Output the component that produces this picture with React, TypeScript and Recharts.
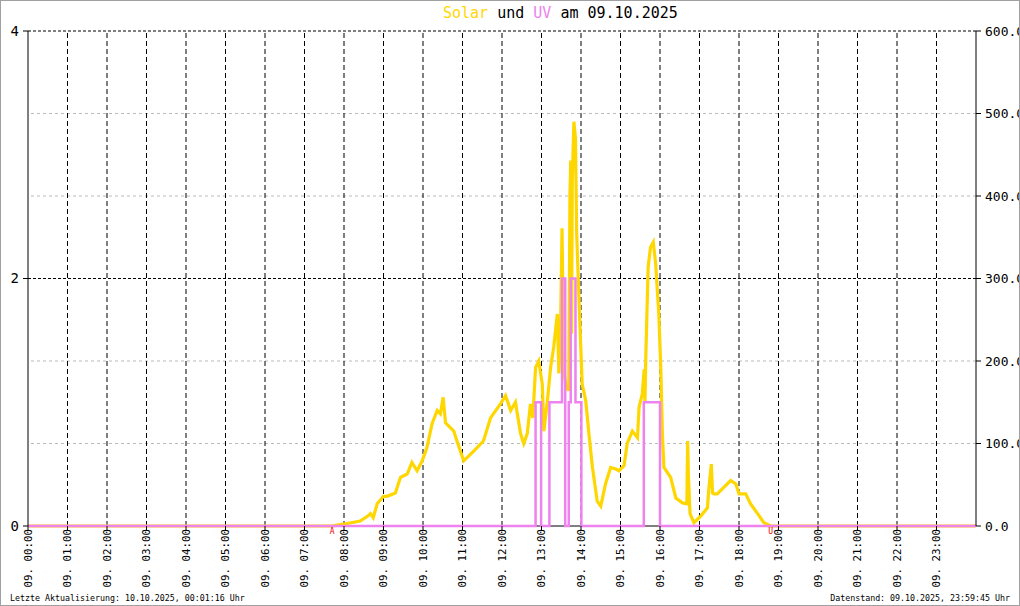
import React from 'react';
import { ComposedChart, Line, XAxis, YAxis, ReferenceLine, ReferenceDot } from 'recharts';

// Solar radiation in W/m² (hour of day -> value)
const solarHours = [
  0, 7.7, 7.82, 8.08, 8.41, 8.6, 8.67, 8.74, 8.84, 9.0, 9.09, 9.3, 9.43, 9.6, 9.72, 9.85, 9.98,
  10.1, 10.23, 10.36, 10.44, 10.51, 10.57, 10.78, 10.86, 11.03, 11.29, 11.53, 11.71, 11.96,
  12.09, 12.22, 12.34, 12.47, 12.55, 12.64, 12.72, 12.78, 12.85, 12.93, 13.02, 13.06, 13.15,
  13.23, 13.31, 13.4, 13.44, 13.48, 13.52, 13.56, 13.61, 13.69, 13.72, 13.74, 13.76, 13.78,
  13.82, 13.86, 13.89, 13.95, 14.03, 14.12, 14.2, 14.29, 14.41, 14.5, 14.62, 14.75, 14.88,
  14.96, 15.09, 15.17, 15.3, 15.43, 15.47, 15.55, 15.6, 15.62, 15.64, 15.7, 15.76, 15.83,
  15.89, 15.97, 16.02, 16.06, 16.1, 16.27, 16.4, 16.57, 16.68, 16.7, 16.72, 16.76, 16.86,
  17.03, 17.2, 17.24, 17.3, 17.33, 17.37, 17.45, 17.62, 17.79, 17.92, 18.0, 18.17, 18.29,
  18.47, 18.63, 18.8, 24,
];
const solarWatts = [
  0, 0, 1, 3, 6, 12, 15, 10, 27, 36, 36, 40, 59, 63, 77, 67, 79,
  95, 124, 140, 136, 156, 125, 115, 103, 79, 91, 103, 131, 148,
  158, 140, 150, 112, 100, 112, 148, 131, 192, 200, 172, 115, 152,
  192, 217, 257, 185, 233, 361, 190, 172, 164, 400, 443, 233, 420,
  490, 470, 355, 273, 172, 152, 112, 71, 30, 24, 51, 71, 69,
  67, 73, 100, 115, 107, 144, 160, 190, 150, 204, 314, 338, 344,
  318, 257, 192, 112, 71, 59, 34, 28, 27, 103, 60, 15, 4,
  12, 22, 47, 75, 40, 39, 39, 47, 55, 51, 39, 39, 27,
  15, 4, 0, 0,
];

// UV index (step changes)
const uvHours = [0, 12.85, 12.99, 13.2, 13.52, 13.6, 13.69, 13.74, 13.86, 14.01, 15.59, 16.0, 24];
const uvIndex = [0, 1, 0, 1, 2, 0, 1, 2, 1, 0, 1, 0, 0];

const hourTicks = Array.from({ length: 24 }, (_, i) => i);
const solarTicks = [0, 100, 200, 300, 400, 500, 600];
const uvTicks = [0, 2, 4];
const sunrise = 7.7;
const sunset = 18.8;

const solarData = solarHours.map((h, i) => ({ h, w: solarWatts[i] }));
const uvData = uvHours.map((h, i) => ({ h, uv: uvIndex[i] }));

const mono = '"DejaVu Sans Mono", "Liberation Mono", monospace';

const HourTick = ({ x, y, payload }: any) => {
  const label = `09. ${String(payload.value).padStart(2, '0')}:00`;
  return (
    <text
      x={x}
      y={y - 4}
      transform={`rotate(-90 ${x} ${y - 4})`}
      textAnchor="end"
      dy="0.35em"
      fontSize={10.8}
      fontFamily={mono}
      fill="#000"
    >
      {label}
    </text>
  );
};

export default function App() {
  return (
    <div
      style={{
        position: 'relative',
        width: 1020,
        height: 606,
        boxSizing: 'border-box',
        border: '1px solid #a0a0a0',
        overflow: 'hidden',
        background: '#fff',
        fontFamily: mono,
      }}
    >
      <style>{'body{margin:0}'}</style>
      <div style={{ position: 'absolute', left: 442, top: 3, fontSize: 15, whiteSpace: 'pre' }}>
        <span style={{ color: '#FFD700' }}>Solar</span> und <span style={{ color: '#EE82EE' }}>UV</span> am 09.10.2025
      </div>
      <div style={{ position: 'absolute', left: 0, top: 0 }}>
        <ComposedChart width={1018} height={604} margin={{ top: 30, right: 0, bottom: 10, left: 0 }}>
          <XAxis
            dataKey="h"
            type="number"
            domain={[0, 24]}
            ticks={hourTicks}
            interval={0}
            allowDataOverflow
            height={69}
            tick={<HourTick />}
            tickSize={5}
            axisLine={false}
            tickLine={{ stroke: '#000' }}
          />
          <YAxis
            yAxisId="uv"
            orientation="left"
            domain={[0, 4]}
            ticks={uvTicks}
            width={27}
            tickSize={5}
            tickMargin={4}
            axisLine={{ stroke: '#000' }}
            tickLine={{ stroke: '#000' }}
            tick={{ fontSize: 14, fontFamily: mono, fill: '#000' }}
          />
          <YAxis
            yAxisId="solar"
            orientation="right"
            domain={[0, 600]}
            ticks={solarTicks}
            width={43}
            tickSize={5}
            tickMargin={4}
            tickFormatter={(v: number) => v.toFixed(1)}
            axisLine={{ stroke: '#000' }}
            tickLine={{ stroke: '#000' }}
            tick={{ fontSize: 13, fontFamily: mono, fill: '#000', textAnchor: 'start' }}
          />
          {solarTicks.slice(1).map((v) => (
            <ReferenceLine
              key={`h${v}`}
              yAxisId="solar"
              y={v}
              stroke={v % 300 === 0 ? '#000' : '#bbb'}
              strokeDasharray={v % 300 === 0 ? '3 2' : '3 3'}
            />
          ))}
          {hourTicks.slice(1).map((h) => (
            <ReferenceLine key={`v${h}`} yAxisId="solar" x={h} stroke="#000" strokeDasharray="5 3" />
          ))}
          <ReferenceLine yAxisId="solar" y={0} stroke="#000" />
          <Line
            yAxisId="solar"
            data={solarData}
            dataKey="w"
            type="linear"
            stroke="#FFD700"
            strokeWidth={3.2}
            dot={false}
            isAnimationActive={false}
          />
          <Line
            yAxisId="uv"
            data={uvData}
            dataKey="uv"
            type="stepAfter"
            stroke="#EE82EE"
            strokeWidth={2.5}
            dot={false}
            isAnimationActive={false}
          />
          <ReferenceDot
            yAxisId="solar"
            x={sunrise}
            y={0}
            r={0}
            label={{ value: 'A', position: 'bottom', offset: 2, fill: '#e00', fontSize: 8, fontFamily: mono }}
          />
          <ReferenceDot
            yAxisId="solar"
            x={sunset}
            y={0}
            r={0}
            label={{ value: 'U', position: 'bottom', offset: 2, fill: '#e00', fontSize: 8, fontFamily: mono }}
          />
        </ComposedChart>
      </div>
      <div style={{ position: 'absolute', left: 9, top: 592, fontSize: 8.3, whiteSpace: 'pre' }}>
        Letzte Aktualisierung: 10.10.2025, 00:01:16 Uhr
      </div>
      <div style={{ position: 'absolute', right: 9, top: 592, fontSize: 8.3, whiteSpace: 'pre' }}>
        Datenstand: 09.10.2025, 23:59:45 Uhr
      </div>
    </div>
  );
}
